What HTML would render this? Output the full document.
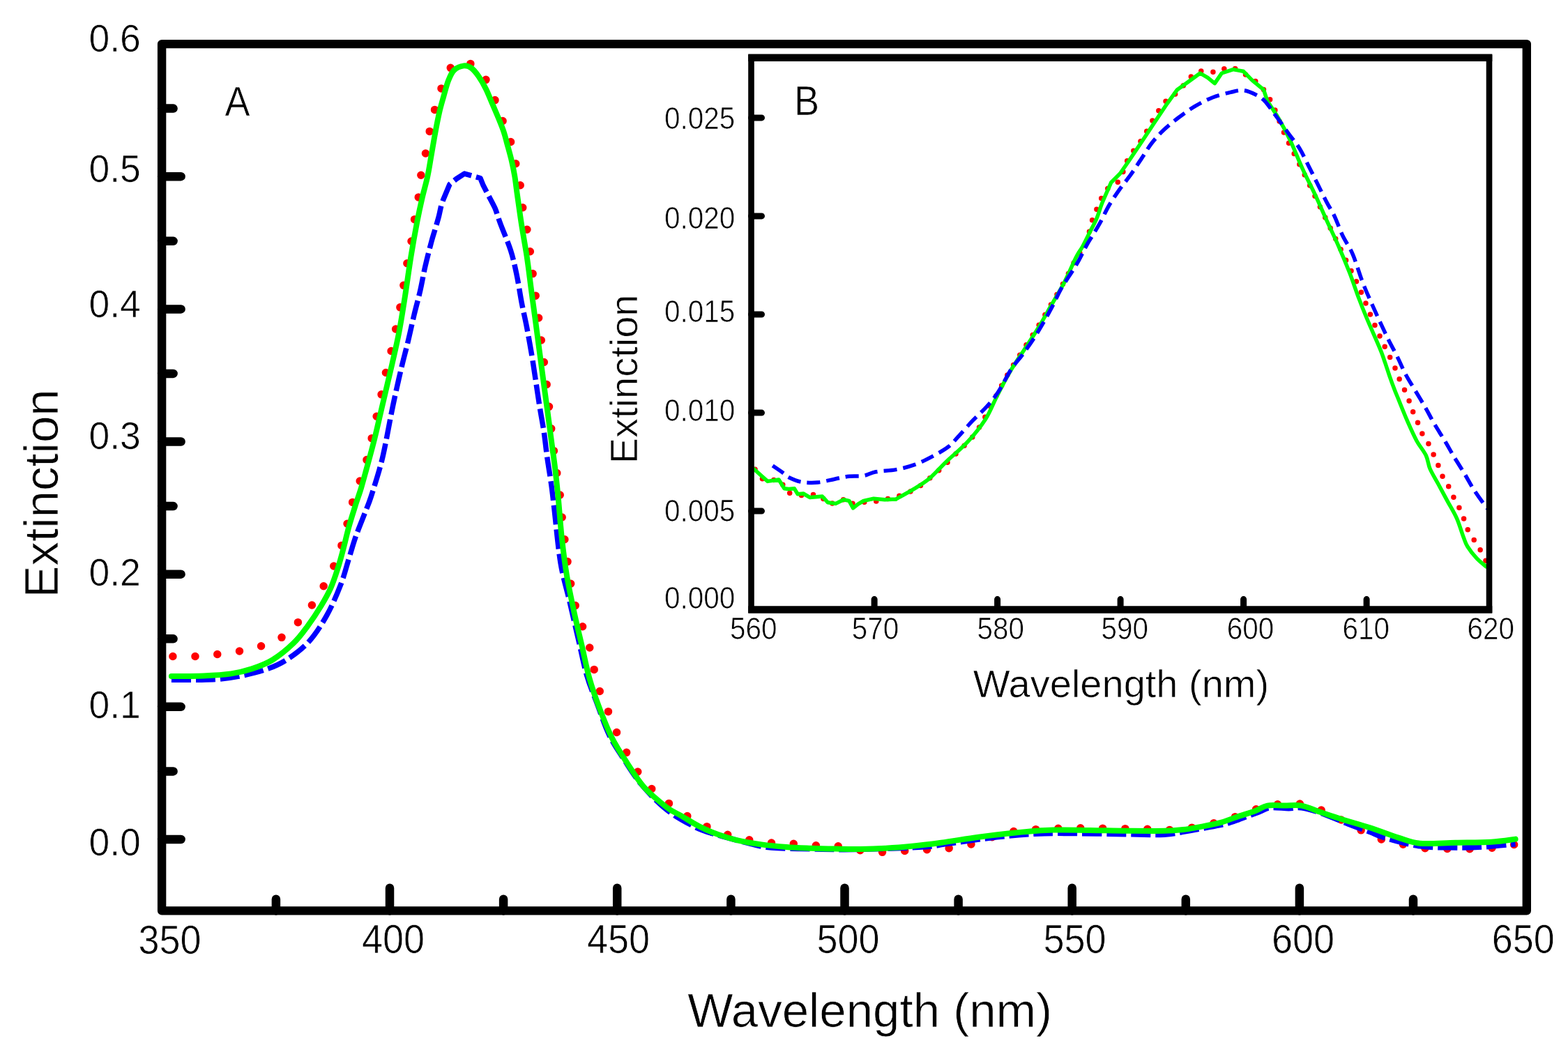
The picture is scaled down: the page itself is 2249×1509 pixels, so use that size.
<!DOCTYPE html>
<html><head><meta charset="utf-8"><title>Extinction spectra</title>
<style>html,body{margin:0;padding:0;background:#fff;} body{width:2249px;height:1509px;overflow:hidden;} svg{display:block;filter:blur(0.6px);}</style>
</head><body>
<svg width="2249" height="1509" viewBox="0 0 2249 1509"><rect width="2249" height="1509" fill="#fff"/><g fill="none" stroke-linejoin="round"><path d="M247.9,941.5 C253.4,941.5 270.3,942.0 280.7,941.5 C291.1,941.0 300.7,939.8 310.5,938.6 C320.3,937.5 330.1,936.1 339.4,934.6 C348.7,933.1 357.6,932.1 366.2,929.6 C374.8,927.1 383.2,923.2 391.0,919.7 C398.8,916.2 405.7,914.7 412.9,908.7 C420.1,902.7 427.8,891.9 434.4,883.9 C441.0,875.9 447.0,869.2 452.7,860.6 C458.4,852.0 463.5,842.1 468.6,832.2 C473.7,822.3 479.5,811.2 483.5,801.4 C487.5,791.6 489.6,783.5 492.4,773.6 C495.2,763.7 497.7,752.3 500.4,741.7 C503.1,731.1 505.1,721.1 508.6,710.0 C512.2,698.9 518.2,686.2 521.7,675.0 C525.2,663.8 527.2,654.2 529.9,643.0 C532.6,631.8 535.0,619.9 537.7,608.0 C540.4,596.1 543.4,583.2 545.9,571.5 C548.4,559.8 550.3,548.4 552.6,538.0 C554.9,527.6 557.6,518.9 559.9,508.9 C562.2,498.9 564.3,488.0 566.3,478.3 C568.3,468.6 570.3,460.1 572.1,450.6 C573.9,441.1 575.4,432.1 577.1,421.4 C578.8,410.7 580.2,398.5 582.3,386.4 C584.4,374.2 587.6,359.9 589.6,348.5 C591.6,337.1 592.3,328.5 594.0,317.9 C595.7,307.2 598.5,294.7 600.0,284.6 C601.5,274.5 601.2,266.6 602.7,257.4 C604.2,248.2 606.9,239.0 608.8,229.2 C610.7,219.4 612.2,208.6 614.1,198.8 C616.0,189.0 618.2,179.1 620.2,170.6 C622.2,162.1 623.9,155.7 626.3,147.7 C628.7,139.7 631.0,131.5 634.7,122.6 C638.4,113.7 643.7,99.8 648.4,94.4 C653.1,89.0 658.2,90.2 663.0,90.0 C667.8,89.8 671.7,89.0 677.3,92.9 C682.9,96.8 690.9,104.9 696.4,113.4 C701.9,121.9 706.3,134.6 710.1,143.9 C713.9,153.2 715.9,160.6 719.2,169.0 C722.5,177.4 727.1,185.9 729.9,194.2 C732.7,202.5 734.0,210.1 736.0,218.6 C738.0,227.1 740.3,236.8 742.1,245.2 C743.9,253.6 745.4,260.2 746.7,268.9 C748.0,277.6 748.3,288.4 749.7,297.5 C751.1,306.6 753.5,315.2 755.0,323.7 C756.5,332.2 757.3,340.2 758.5,348.5 C759.7,356.8 760.8,363.6 762.0,373.3 C763.2,383.0 764.5,396.9 765.8,406.8 C767.0,416.8 768.2,423.5 769.5,433.0 C770.8,442.5 772.3,453.0 773.6,463.7 C774.9,474.4 776.1,486.8 777.4,497.2 C778.7,507.6 779.8,515.2 781.2,526.4 C782.6,537.6 784.3,552.2 785.6,564.3 C786.9,576.4 787.9,587.6 789.1,599.2 C790.3,610.9 791.5,622.1 792.9,634.2 C794.3,646.4 796.2,661.2 797.8,672.1 C799.3,683.0 800.9,689.2 802.2,699.8 C803.5,710.4 803.6,718.8 805.5,735.8 C807.4,752.8 810.6,781.2 813.5,801.9 C816.4,822.6 819.2,843.6 823.0,860.0 C826.8,876.4 832.3,888.8 836.0,900.0 C839.7,911.2 842.6,917.4 845.2,927.0 C847.8,936.6 849.2,947.4 851.5,957.5 C853.8,967.6 855.9,978.4 859.0,987.9 C862.1,997.4 866.0,1004.6 870.1,1014.7 C874.2,1024.8 878.6,1037.4 883.7,1048.7 C888.8,1060.0 894.4,1071.7 900.5,1082.7 C906.6,1093.7 913.6,1106.0 920.2,1114.9 C926.8,1123.8 932.1,1129.2 939.9,1136.3 C947.6,1143.4 957.6,1151.2 966.7,1157.8 C975.8,1164.4 985.5,1170.6 994.6,1175.8 C1003.7,1181.0 1012.2,1185.0 1021.1,1188.8 C1030.0,1192.6 1038.9,1195.8 1047.8,1198.5 C1056.7,1201.2 1065.0,1203.1 1074.5,1204.8 C1084.0,1206.5 1094.6,1208.0 1104.7,1208.9 C1114.8,1209.8 1123.9,1209.4 1135.0,1210.1 C1146.1,1210.8 1159.1,1212.1 1171.4,1212.8 C1183.7,1213.5 1195.8,1212.9 1208.8,1214.5 C1221.8,1216.1 1236.2,1221.2 1249.7,1222.3 C1263.2,1223.3 1277.2,1221.3 1289.7,1220.8 C1302.2,1220.2 1313.0,1219.6 1324.4,1219.0 C1335.8,1218.4 1345.3,1218.8 1358.0,1217.1 C1370.7,1215.4 1388.7,1212.2 1400.7,1209.1 C1412.7,1206.0 1419.6,1201.3 1430.0,1198.3 C1440.4,1195.3 1447.0,1193.0 1462.9,1191.3 C1478.8,1189.6 1509.5,1188.6 1525.2,1188.0 C1540.9,1187.4 1546.5,1187.8 1557.2,1187.8 C1567.9,1187.8 1578.2,1188.1 1589.2,1188.3 C1600.2,1188.5 1612.3,1188.6 1623.0,1188.8 C1633.7,1189.0 1644.8,1189.3 1653.2,1189.6 C1661.7,1189.9 1666.1,1190.6 1673.7,1190.5 C1681.3,1190.4 1690.1,1189.8 1698.6,1188.8 C1707.0,1187.8 1716.2,1185.9 1724.4,1184.3 C1732.6,1182.7 1739.8,1181.1 1747.5,1179.0 C1755.2,1176.9 1763.1,1174.3 1770.7,1171.9 C1778.3,1169.5 1785.9,1167.4 1793.2,1164.7 C1800.5,1162.0 1806.2,1157.4 1814.7,1155.5 C1823.2,1153.6 1835.5,1153.8 1844.3,1153.5 C1853.1,1153.2 1859.9,1152.3 1867.8,1153.5 C1875.7,1154.7 1883.9,1157.9 1891.4,1160.6 C1898.9,1163.3 1905.7,1166.2 1912.8,1169.8 C1919.9,1173.4 1926.4,1177.9 1934.3,1182.0 C1942.2,1186.1 1951.2,1190.5 1959.9,1194.5 C1968.6,1198.5 1977.1,1202.8 1986.5,1205.7 C1995.9,1208.6 2006.0,1209.9 2016.1,1211.8 C2026.1,1213.7 2036.4,1216.0 2046.8,1217.0 C2057.2,1218.0 2066.1,1217.4 2078.5,1217.5 C2090.9,1217.6 2109.2,1217.9 2121.5,1217.5 C2133.8,1217.1 2143.2,1216.0 2152.1,1214.9 C2161.0,1213.8 2171.2,1211.5 2175.0,1210.8" stroke="#ff0000" stroke-width="11.5" stroke-linecap="round" stroke-dasharray="0 32"/><path d="M245.9,975.3 C251.9,975.3 270.8,975.4 281.7,975.3 C292.6,975.1 301.6,975.2 311.5,974.4 C321.4,973.6 329.7,972.7 341.3,970.4 C352.9,968.1 369.5,964.4 381.1,960.4 C392.7,956.4 400.6,953.1 410.9,946.5 C421.2,939.9 433.1,931.3 442.7,920.7 C452.3,910.1 461.0,896.5 468.6,882.9 C476.2,869.3 483.2,852.8 488.5,839.2 C493.8,825.6 496.8,813.0 500.4,801.4 C504.0,789.8 506.3,780.9 510.3,769.6 C514.3,758.3 520.6,743.2 524.2,733.8 C527.8,724.4 528.4,724.0 532.0,713.0 C535.6,702.0 542.3,680.7 545.8,667.8 C549.3,654.9 550.7,647.4 553.1,635.7 C555.5,624.0 558.0,609.9 560.4,597.8 C562.8,585.6 565.0,574.9 567.7,562.8 C570.4,550.6 573.5,537.0 576.4,524.9 C579.3,512.8 582.3,502.0 585.2,489.9 C588.1,477.8 591.0,464.1 593.9,452.0 C596.8,439.9 600.0,428.7 602.7,417.0 C605.4,405.3 607.2,393.6 609.9,382.0 C612.6,370.4 616.3,356.0 618.7,347.1 C621.1,338.2 622.4,334.7 624.2,328.5 C626.0,322.3 628.1,315.5 629.5,310.0 C630.9,304.5 631.7,299.5 632.7,295.7 C633.7,291.9 635.0,288.7 635.4,287.3 L644.9,264.5 L654.7,256.5 L666.1,249.1 L688.9,255.5 L693.2,266.1 L707.5,293.6 C708.1,294.9 709.5,297.1 711.2,301.6 C712.9,306.1 714.2,311.3 717.7,320.8 C721.2,330.3 728.4,346.6 732.3,358.7 C736.2,370.8 738.3,381.1 741.0,393.7 C743.7,406.3 745.9,421.9 748.3,434.5 C750.7,447.1 753.2,456.9 755.6,469.5 C758.0,482.1 760.7,497.2 762.9,510.3 C765.1,523.4 766.8,535.6 768.7,548.2 C770.6,560.8 772.5,574.0 774.5,586.1 C776.5,598.2 778.7,609.4 780.4,621.1 C782.1,632.8 783.1,644.0 784.8,656.1 C786.5,668.2 788.9,681.7 790.6,694.0 C792.3,706.3 792.8,711.1 795.0,730.0 C797.2,748.9 800.4,785.5 804.0,807.3 C807.6,829.1 812.3,843.0 816.5,860.9 C820.7,878.8 824.8,896.7 829.0,914.6 C833.2,932.5 837.0,952.7 841.5,968.2 C846.0,983.7 850.4,993.3 855.8,1007.6 C861.2,1021.9 867.1,1040.4 873.7,1054.1 C880.3,1067.8 887.5,1077.9 895.2,1089.8 C903.0,1101.7 910.1,1113.7 920.2,1125.6 C930.3,1137.5 943.6,1151.5 956.0,1161.4 C968.4,1171.3 983.6,1179.3 994.5,1185.0 C1005.4,1190.7 1006.6,1191.0 1021.1,1195.4 C1035.6,1199.8 1067.4,1208.1 1081.6,1211.5 C1095.8,1214.9 1092.9,1215.0 1106.5,1216.0 C1120.1,1217.0 1143.5,1217.4 1163.4,1217.8 C1183.3,1218.2 1199.0,1219.0 1225.7,1218.6 C1252.4,1218.1 1301.6,1216.4 1323.5,1215.1 C1345.4,1213.8 1339.3,1213.0 1357.1,1210.6 C1374.8,1208.2 1409.0,1203.2 1430.0,1200.8 C1451.0,1198.4 1467.1,1197.2 1483.4,1196.3 C1499.7,1195.4 1505.7,1195.3 1527.9,1195.4 C1550.1,1195.5 1593.1,1196.4 1616.8,1196.7 C1640.5,1197.0 1655.3,1198.0 1670.1,1197.2 C1684.9,1196.4 1692.4,1194.0 1705.7,1191.7 C1719.0,1189.4 1739.8,1185.7 1750.0,1183.6 C1760.2,1181.5 1757.3,1182.3 1766.6,1179.2 C1775.8,1176.1 1796.3,1168.3 1805.5,1164.9 C1814.7,1161.5 1814.6,1159.6 1821.8,1158.7 C1829.0,1157.8 1840.9,1159.7 1848.4,1159.7 C1855.9,1159.7 1859.3,1157.7 1866.8,1158.7 C1874.3,1159.7 1882.2,1161.9 1893.4,1165.8 C1904.7,1169.7 1922.4,1177.6 1934.3,1182.2 C1946.2,1186.8 1956.5,1190.3 1965.0,1193.5 C1973.5,1196.7 1973.6,1198.2 1985.5,1201.6 C1997.4,1205.0 2019.6,1211.5 2036.6,1213.9 C2053.6,1216.3 2072.4,1215.7 2087.7,1215.9 C2103.0,1216.1 2114.3,1215.8 2128.6,1214.9 C2142.9,1214.1 2166.1,1211.5 2173.6,1210.8" stroke="#0000ff" stroke-width="7.5" stroke-linecap="butt" stroke-dasharray="28 7"/><path d="M245.9,970.0 C253.5,969.9 277.4,970.0 291.6,969.4 C305.9,968.8 319.8,968.1 331.4,966.4 C343.0,964.7 351.3,962.7 361.2,959.4 C371.1,956.1 381.1,952.6 391.0,946.5 C400.9,940.4 412.6,930.7 420.9,922.7 C429.2,914.8 434.1,907.8 440.7,898.8 C447.3,889.8 455.0,878.3 460.6,869.0 C466.2,859.7 470.5,852.1 474.5,843.1 C478.5,834.1 481.5,824.6 484.5,815.3 C487.5,806.0 489.8,797.4 492.4,787.5 C495.0,777.6 497.5,766.0 500.4,755.7 C503.2,745.4 506.6,735.1 509.5,725.8 C512.4,716.5 515.4,708.7 518.0,700.0 C520.6,691.3 522.2,685.3 525.4,673.6 C528.6,661.9 533.2,645.5 537.1,629.9 C541.0,614.3 544.8,596.8 548.7,580.3 C552.6,563.8 556.5,547.7 560.4,530.7 C564.3,513.7 568.6,495.8 572.0,478.3 C575.4,460.8 577.9,444.3 580.8,425.8 C583.7,407.3 586.6,385.5 589.5,367.5 C592.4,349.5 595.6,331.9 598.3,317.9 C601.0,303.9 603.2,294.1 605.7,283.3 C608.2,272.5 611.1,263.1 613.3,252.9 C615.5,242.8 616.9,232.6 618.7,222.4 C620.5,212.2 622.1,202.1 624.0,191.9 C625.9,181.7 628.1,170.3 630.1,161.4 C632.1,152.5 634.1,146.2 636.2,138.6 C638.4,131.0 640.5,122.0 643.0,115.7 C645.5,109.4 647.7,104.0 651.4,100.5 C655.1,97.0 661.0,94.9 665.1,94.4 C669.2,93.9 672.2,94.9 675.8,97.4 C679.4,99.9 683.0,104.5 686.5,109.6 C690.0,114.7 693.8,121.3 697.1,127.9 C700.4,134.5 703.2,142.1 706.3,149.2 C709.3,156.3 712.6,163.7 715.4,170.6 C718.2,177.5 721.0,184.3 723.0,190.4 C725.0,196.5 725.8,200.5 727.6,207.1 C729.4,213.7 731.9,222.4 733.7,230.0 C735.5,237.6 736.9,244.6 738.3,252.9 C739.7,261.2 740.3,268.2 742.0,280.0 C743.7,291.8 746.0,309.1 748.3,323.7 C750.6,338.3 753.4,352.9 755.6,367.5 C757.8,382.1 759.5,396.6 761.4,411.2 C763.3,425.8 765.3,440.3 767.3,454.9 C769.2,469.5 771.2,484.1 773.1,498.7 C775.0,513.3 777.0,527.8 778.9,542.4 C780.8,557.0 782.8,571.5 784.8,586.1 C786.8,600.7 788.7,615.3 790.6,629.9 C792.5,644.5 794.8,659.9 796.4,673.6 C798.0,687.3 798.9,695.7 800.5,712.0 C802.1,728.3 803.7,752.6 805.8,771.5 C807.9,790.4 809.9,807.3 812.9,825.2 C815.9,843.1 820.0,862.1 823.6,878.8 C827.2,895.5 830.8,909.8 834.4,925.3 C838.0,940.8 840.9,956.9 845.1,971.8 C849.3,986.7 854.0,1000.4 859.4,1014.7 C864.8,1029.0 870.7,1044.5 877.3,1057.6 C883.9,1070.7 891.0,1081.5 898.8,1093.4 C906.5,1105.3 914.3,1118.5 923.8,1129.2 C933.3,1139.9 947.2,1151.0 956.0,1157.8 C964.8,1164.6 968.8,1165.4 976.7,1170.0 C984.6,1174.6 994.5,1181.1 1003.4,1185.6 C1012.3,1190.1 1021.1,1193.8 1030.0,1197.1 C1038.9,1200.3 1046.3,1202.7 1056.7,1205.1 C1067.1,1207.5 1080.4,1209.8 1092.3,1211.4 C1104.2,1213.0 1116.1,1214.0 1127.9,1214.9 C1139.8,1215.8 1151.6,1216.2 1163.4,1216.7 C1175.2,1217.2 1187.1,1217.4 1199.0,1217.6 C1210.9,1217.8 1222.8,1218.1 1234.6,1217.9 C1246.4,1217.8 1258.2,1217.4 1270.1,1216.7 C1281.9,1216.0 1292.4,1215.3 1305.7,1214.0 C1319.0,1212.7 1333.7,1210.9 1350.0,1208.7 C1366.3,1206.5 1385.6,1203.1 1403.4,1200.7 C1421.2,1198.3 1438.9,1196.2 1456.7,1194.5 C1474.5,1192.8 1492.3,1191.2 1510.1,1190.6 C1527.9,1190.0 1545.6,1190.7 1563.4,1190.9 C1581.2,1191.1 1599.0,1191.7 1616.8,1191.8 C1634.6,1191.9 1656.8,1192.1 1670.1,1191.8 C1683.4,1191.5 1687.9,1191.0 1696.8,1190.0 C1705.7,1189.0 1714.6,1187.2 1723.5,1185.6 C1732.4,1184.0 1742.1,1182.3 1750.0,1180.2 C1757.9,1178.1 1762.1,1175.9 1770.7,1173.0 C1779.3,1170.1 1793.6,1165.6 1801.4,1162.7 C1809.2,1159.8 1810.9,1156.8 1817.7,1155.6 C1824.5,1154.4 1834.1,1155.6 1842.3,1155.6 C1850.5,1155.6 1858.3,1154.1 1866.8,1155.6 C1875.3,1157.1 1883.9,1161.6 1893.4,1164.8 C1903.0,1168.0 1912.2,1171.2 1924.1,1175.0 C1936.0,1178.8 1951.4,1182.9 1965.0,1187.3 C1978.6,1191.7 1994.0,1197.8 2005.9,1201.6 C2017.8,1205.3 2023.0,1208.6 2036.6,1209.8 C2050.2,1211.0 2070.6,1209.0 2087.7,1208.7 C2104.8,1208.4 2124.6,1208.6 2138.9,1207.7 C2153.2,1206.8 2167.8,1204.3 2173.6,1203.6" stroke="#00ff00" stroke-width="8" stroke-linecap="round"/></g><rect x="232.1" y="63.1" width="1957.7" height="1243.3" fill="none" stroke="#000" stroke-width="12.4" stroke-linejoin="round"/><path d="M232.1,1204.0 H259.6 M232.1,1013.8 H259.6 M232.1,823.7 H259.6 M232.1,633.5 H259.6 M232.1,443.4 H259.6 M232.1,253.2 H259.6 M232.1,1106.4 H248.6 M232.1,916.3 H248.6 M232.1,726.1 H248.6 M232.1,535.9 H248.6 M232.1,345.8 H248.6 M232.1,155.6 H248.6 M559.0,1306.4 V1273.7 M885.2,1306.4 V1273.7 M1211.5,1306.4 V1273.7 M1537.7,1306.4 V1273.7 M1863.9,1306.4 V1273.7 M395.9,1306.4 V1289.7 M722.1,1306.4 V1289.7 M1048.4,1306.4 V1289.7 M1374.6,1306.4 V1289.7 M1700.8,1306.4 V1289.7 M2027.0,1306.4 V1289.7" stroke="#000" stroke-width="12.5" stroke-linecap="round" fill="none"/><rect x="1077.5" y="82.8" width="1058.5" height="791.8" fill="#fff" stroke="none"/><g fill="none" stroke-linejoin="round"><path d="M1083.0,673.2 C1085.2,675.8 1090.1,685.8 1096.2,688.4 C1102.3,691.0 1114.3,686.3 1119.4,689.0 C1124.5,691.7 1121.4,700.9 1126.6,704.5 C1131.8,708.1 1142.5,709.7 1150.6,710.6 C1158.7,711.5 1169.2,707.9 1175.4,710.0 C1181.6,712.2 1182.2,722.3 1187.5,723.3 C1192.8,724.3 1202.8,716.0 1207.5,716.0 C1212.2,716.1 1211.8,722.8 1215.5,723.5 C1219.2,724.3 1222.2,721.6 1229.9,720.7 C1237.6,719.8 1249.0,720.9 1261.9,718.2 C1274.8,715.5 1294.0,711.0 1307.5,704.3 C1321.0,697.7 1331.9,687.3 1342.7,678.2 C1353.5,669.1 1362.8,659.4 1372.3,649.7 C1381.8,640.0 1391.2,632.5 1400.0,620.0 C1408.8,607.5 1417.3,589.0 1425.0,575.0 C1432.7,561.0 1438.8,548.3 1446.0,536.0 C1453.2,523.7 1460.8,512.3 1468.0,501.0 C1475.2,489.7 1482.3,478.8 1489.0,468.0 C1495.7,457.2 1501.7,446.8 1508.0,436.0 C1514.3,425.2 1520.8,414.3 1527.0,403.0 C1533.2,391.7 1540.0,376.6 1545.0,368.0 C1550.0,359.4 1553.7,359.7 1557.3,351.1 C1560.9,342.5 1563.4,325.8 1566.4,316.4 C1569.4,307.0 1572.2,301.9 1575.5,294.6 C1578.8,287.3 1581.2,278.8 1586.4,272.7 C1591.6,266.6 1601.9,264.2 1606.5,258.1 C1611.1,252.0 1610.5,243.4 1613.8,236.3 C1617.1,229.2 1622.2,221.7 1626.5,215.3 C1630.8,208.9 1635.3,204.2 1639.3,198.0 C1643.2,191.8 1646.5,184.3 1650.2,177.9 C1653.9,171.5 1657.2,165.5 1661.2,159.7 C1665.2,153.9 1668.9,148.2 1673.9,143.3 C1678.9,138.5 1686.2,135.4 1691.2,130.6 C1696.2,125.8 1699.1,118.9 1704.0,114.2 C1708.9,109.5 1713.3,104.1 1720.4,102.3 C1727.5,100.5 1739.7,104.3 1746.8,103.2 C1753.9,102.1 1757.4,95.8 1763.2,95.9 C1769.0,96.1 1775.6,101.0 1781.4,104.1 C1787.2,107.1 1792.9,110.5 1797.8,114.2 C1802.7,117.9 1806.0,120.1 1810.6,126.0 C1815.2,131.9 1819.7,138.3 1825.2,149.7 C1830.7,161.1 1837.3,180.6 1843.4,194.3 C1849.5,208.0 1856.2,220.2 1862.0,232.0 C1867.8,243.8 1872.7,253.7 1878.2,265.0 C1883.7,276.3 1889.4,288.3 1895.0,300.0 C1900.6,311.7 1906.2,323.0 1912.0,335.0 C1917.8,347.0 1923.7,359.0 1930.0,372.0 C1936.3,385.0 1943.4,398.9 1949.7,413.0 C1956.0,427.1 1963.3,446.2 1967.6,456.4 C1971.9,466.6 1972.9,468.6 1975.5,474.3 C1978.1,480.1 1980.6,485.4 1983.2,490.9 C1985.8,496.4 1988.3,501.5 1991.1,507.2 C1993.9,512.9 1997.1,519.0 1999.8,525.1 C2002.5,531.2 2004.4,537.5 2007.1,543.6 C2009.8,549.7 2013.2,556.0 2015.7,561.8 C2018.2,567.5 2020.4,573.1 2022.3,578.1 C2024.2,583.1 2025.3,587.5 2027.1,591.9 C2028.8,596.3 2030.9,599.7 2032.8,604.3 C2034.7,608.9 2036.0,614.6 2038.6,619.7 C2041.2,624.8 2045.3,629.8 2048.2,635.1 C2051.1,640.4 2053.5,646.1 2055.9,651.4 C2058.3,656.7 2060.5,661.7 2062.6,666.8 C2064.7,671.9 2066.0,677.1 2068.4,682.1 C2070.8,687.1 2074.3,691.4 2077.0,696.5 C2079.7,701.6 2082.1,707.8 2084.7,712.9 C2087.3,718.0 2090.0,722.3 2092.4,727.3 C2094.8,732.3 2097.2,737.7 2099.1,742.7 C2101.0,747.7 2101.5,752.0 2103.9,757.1 C2106.3,762.2 2110.5,768.5 2113.5,773.4 C2116.5,778.3 2119.4,782.0 2122.1,786.8 C2124.8,791.6 2128.0,798.7 2129.8,802.2 C2131.6,805.7 2132.5,807.0 2133.0,808.0" stroke="#ff0000" stroke-width="7.5" stroke-linecap="round" stroke-dasharray="0 17"/><path d="M1080.5,672.0 L1093.0,683.2 L1101.0,690.4 L1117.0,688.0 L1125.0,700.8 L1131.4,701.6 L1139.4,700.8 L1144.2,708.8 L1152.2,708.0 L1161.8,713.6 L1179.4,712.0 L1187.5,720.8 L1198.7,722.4 L1209.9,716.8 L1217.9,718.4 L1223.5,728.8 L1230.7,723.2 L1238.7,718.4 L1253.1,715.2 L1269.1,716.8 L1285.1,716.0 M1285.1,716.0 C1289.1,713.7 1301.1,707.3 1309.1,702.4 C1317.1,697.5 1325.1,693.1 1333.1,686.4 C1341.1,679.7 1348.0,671.1 1357.1,662.4 C1366.2,653.6 1378.4,644.1 1387.8,633.9 C1397.2,623.7 1406.4,612.2 1413.4,601.4 C1420.4,590.6 1423.8,580.1 1429.6,568.9 C1435.4,557.7 1441.5,545.3 1448.1,534.1 C1454.7,522.9 1462.0,512.5 1469.0,501.7 C1476.0,490.9 1483.3,480.0 1489.9,469.2 C1496.5,458.4 1502.3,447.5 1508.5,436.7 C1514.7,425.9 1521.2,415.4 1527.0,404.2 C1532.8,393.0 1538.9,378.0 1543.2,369.5 C1547.5,361.0 1549.8,359.1 1553.1,353.0 C1556.4,346.9 1559.8,339.7 1563.1,333.1 C1566.4,326.5 1570.0,320.4 1573.0,313.2 C1576.0,306.0 1577.8,298.6 1581.3,290.0 C1584.8,281.4 1591.6,266.5 1593.7,261.8 M1593.7,261.8 L1606.5,249.0 L1619.2,230.8 L1637.5,203.5 L1655.7,176.1 L1673.9,148.8 L1688.5,128.7 L1704.9,116.9 L1721.3,105.0 L1732.2,111.4 L1742.3,119.6 L1752.3,105.0 L1768.7,99.6 L1783.3,102.3 L1796.0,115.1 L1812.4,128.7 L1817.9,145.1 M1817.9,145.1 C1820.6,149.3 1828.8,161.2 1834.3,170.6 C1839.8,180.0 1845.0,189.5 1850.7,201.6 C1856.4,213.7 1862.7,230.1 1868.6,242.9 C1874.5,255.8 1880.2,266.4 1886.0,278.7 C1891.8,291.0 1897.6,304.6 1903.2,316.9 C1908.8,329.2 1914.3,340.3 1919.7,352.6 C1925.1,364.9 1930.8,378.5 1935.6,390.8 C1940.4,403.1 1944.3,415.4 1948.5,426.6 C1952.7,437.8 1955.9,445.8 1961.0,458.0 C1966.1,470.2 1975.0,489.6 1979.2,499.9 C1983.5,510.2 1984.2,513.2 1986.5,519.8 C1988.8,526.4 1990.8,533.0 1993.1,539.6 C1995.4,546.2 1998.4,554.3 2000.4,559.5 C2002.4,564.7 2002.0,563.4 2005.0,570.7 C2008.0,578.0 2013.9,593.1 2018.4,603.4 C2022.9,613.6 2027.4,623.9 2031.9,632.2 C2036.4,640.5 2042.1,646.6 2045.3,653.3 C2048.5,660.0 2048.2,665.8 2051.1,672.5 C2054.0,679.2 2058.4,686.0 2062.6,693.7 C2066.8,701.4 2071.5,710.3 2076.0,718.6 C2080.5,726.9 2085.7,735.0 2089.5,743.6 C2093.3,752.2 2096.5,763.8 2099.1,770.5 C2101.7,777.2 2101.7,778.9 2104.9,784.0 C2108.1,789.1 2113.8,796.4 2118.3,801.2 C2122.8,806.0 2129.5,810.9 2131.7,812.8" stroke="#00ff00" stroke-width="5.5" stroke-linecap="round"/><path d="M1108.2,668.0 C1110.7,669.7 1119.5,675.6 1123.4,678.4 C1127.3,681.2 1127.1,682.7 1131.4,684.8 C1135.7,686.9 1142.1,690.0 1149.0,691.2 C1155.9,692.4 1165.0,692.7 1173.0,692.0 C1181.0,691.3 1189.6,688.7 1197.1,687.2 C1204.6,685.7 1211.0,684.0 1217.9,683.2 C1224.8,682.4 1232.3,683.5 1238.7,682.4 C1245.1,681.3 1248.6,678.3 1256.3,676.8 C1264.0,675.3 1275.8,675.3 1285.1,673.6 C1294.4,671.9 1303.5,669.6 1312.3,666.4 C1321.1,663.2 1329.9,658.7 1337.9,654.4 C1345.9,650.1 1354.3,645.4 1360.3,640.8 C1366.3,636.2 1368.2,633.1 1373.9,626.9 C1379.7,620.7 1387.8,611.1 1394.8,603.7 C1401.8,596.4 1409.5,589.8 1415.7,582.8 C1421.9,575.8 1426.1,570.9 1431.9,562.0 C1437.7,553.1 1444.7,538.4 1450.5,529.5 C1456.3,520.6 1461.3,516.0 1466.7,508.6 C1472.1,501.2 1477.9,493.1 1482.9,485.4 C1487.9,477.7 1492.2,470.3 1496.9,462.2 C1501.6,454.1 1506.5,444.8 1510.8,436.7 C1515.0,428.6 1517.6,421.9 1522.4,413.5 C1527.2,405.1 1535.7,392.9 1539.9,386.1 C1544.1,379.3 1545.4,377.2 1547.8,372.8 C1550.2,368.4 1552.5,363.5 1554.5,359.6 C1556.5,355.7 1557.7,353.3 1559.8,349.6 C1561.9,345.9 1564.3,342.4 1567.3,337.4 C1570.3,332.4 1574.0,326.6 1577.9,319.5 C1581.8,312.4 1585.9,302.9 1590.5,295.0 C1595.1,287.1 1600.4,279.3 1605.7,271.8 C1611.0,264.3 1617.0,257.4 1622.3,249.9 C1627.6,242.4 1632.5,234.5 1637.5,227.1 C1642.5,219.7 1646.8,212.0 1652.0,205.3 C1657.2,198.6 1662.1,193.1 1668.5,187.0 C1674.9,180.9 1682.7,174.6 1690.3,168.8 C1697.9,163.0 1705.8,157.2 1714.0,152.4 C1722.2,147.6 1731.0,143.0 1739.5,139.7 C1748.0,136.4 1757.7,134.1 1765.0,132.4 C1772.3,130.7 1777.2,129.0 1783.3,129.6 C1789.4,130.2 1796.3,133.4 1801.5,136.0 C1806.7,138.6 1809.4,139.9 1814.2,145.1 C1819.0,150.3 1824.8,159.1 1830.6,167.0 C1836.4,174.9 1843.3,184.8 1848.9,192.5 C1854.5,200.2 1859.3,205.4 1864.0,213.0 C1868.7,220.6 1872.8,230.0 1877.0,238.2 C1881.2,246.4 1884.5,253.3 1888.9,262.0 C1893.3,270.7 1899.0,282.7 1903.2,290.6 C1907.4,298.6 1910.1,301.8 1913.9,309.7 C1917.7,317.6 1921.5,329.1 1925.9,338.3 C1930.3,347.5 1935.4,353.5 1940.2,364.6 C1945.0,375.7 1949.7,392.8 1954.5,405.1 C1959.3,417.4 1964.4,428.6 1968.8,438.5 C1973.2,448.4 1976.9,456.4 1980.7,464.7 C1984.5,472.9 1987.9,480.2 1991.8,488.0 C1995.7,495.8 2000.1,503.4 2004.1,511.5 C2008.1,519.6 2011.7,528.6 2016.0,536.7 C2020.3,544.8 2025.0,552.0 2029.9,560.2 C2034.8,568.4 2040.8,578.3 2045.3,586.1 C2049.8,593.9 2052.3,599.5 2056.8,607.2 C2061.3,614.9 2067.4,624.2 2072.2,632.2 C2077.0,640.2 2080.8,647.3 2085.6,655.3 C2090.4,663.3 2096.2,672.2 2101.0,680.2 C2105.8,688.2 2109.4,695.4 2114.5,703.3 C2119.6,711.1 2127.9,722.5 2131.7,727.3 C2135.5,732.1 2136.5,731.3 2137.5,732.1" stroke="#0000ff" stroke-width="5.5" stroke-linecap="butt" stroke-dasharray="19 9"/></g><rect x="1077.5" y="82.8" width="1058.5" height="791.8" fill="none" stroke="#000" stroke-width="8.6" stroke-linejoin="miter"/><path d="M1073.2,82.8 H2140.3 M1073.2,874.6 H2140.3" stroke="#000" stroke-width="10.5" fill="none"/><path d="M1077.5,733.1 H1092.5 M1077.5,592.1 H1092.5 M1077.5,451.0 H1092.5 M1077.5,309.9 H1092.5 M1077.5,168.9 H1092.5 M1254.1,874.6 V859.6 M1430.6,874.6 V859.6 M1607.1,874.6 V859.6 M1783.6,874.6 V859.6 M1960.1,874.6 V859.6" stroke="#000" stroke-width="9" stroke-linecap="round" fill="none"/><g font-family='"Liberation Sans", Arial, sans-serif' fill="#000" stroke="#fff" stroke-width="0.7"><text x="0" y="0" font-size="56" text-anchor="end" transform="translate(201.8,74.0) scale(0.955,1)">0.6</text><text x="0" y="0" font-size="56" text-anchor="end" transform="translate(201.8,261.2) scale(0.955,1)">0.5</text><text x="0" y="0" font-size="56" text-anchor="end" transform="translate(201.8,455.0) scale(0.955,1)">0.4</text><text x="0" y="0" font-size="56" text-anchor="end" transform="translate(201.8,643.8) scale(0.955,1)">0.3</text><text x="0" y="0" font-size="56" text-anchor="end" transform="translate(201.8,839.5) scale(0.955,1)">0.2</text><text x="0" y="0" font-size="56" text-anchor="end" transform="translate(201.8,1029.9) scale(0.955,1)">0.1</text><text x="0" y="0" font-size="56" text-anchor="end" transform="translate(201.8,1227.0) scale(0.955,1)">0.0</text><text x="0" y="0" font-size="56.5" text-anchor="middle" transform="translate(243.6,1368.0) scale(0.955,1)">350</text><text x="0" y="0" font-size="56.5" text-anchor="middle" transform="translate(563.9,1367.0) scale(0.955,1)">400</text><text x="0" y="0" font-size="56.5" text-anchor="middle" transform="translate(887.0,1367.0) scale(0.955,1)">450</text><text x="0" y="0" font-size="56.5" text-anchor="middle" transform="translate(1216.6,1367.0) scale(0.955,1)">500</text><text x="0" y="0" font-size="56.5" text-anchor="middle" transform="translate(1541.6,1367.0) scale(0.955,1)">550</text><text x="0" y="0" font-size="56.5" text-anchor="middle" transform="translate(1868.9,1367.0) scale(0.955,1)">600</text><text x="0" y="0" font-size="56.5" text-anchor="middle" transform="translate(2184.8,1367.0) scale(0.955,1)">650</text><text x="1247.6" y="1473.4" font-size="69" text-anchor="middle" >Wavelength (nm)</text><text x="0" y="0" font-size="59.5" text-anchor="middle" transform="translate(340.5,166.0) scale(0.91,1)">A</text><text x="0" y="0" font-size="59.5" text-anchor="middle" transform="translate(1157.0,165.4) scale(0.91,1)">B</text><text x="0" y="0" font-size="43.5" text-anchor="end" transform="translate(1054.3,184.7) scale(0.93,1)">0.025</text><text x="0" y="0" font-size="43.5" text-anchor="end" transform="translate(1054.3,328.4) scale(0.93,1)">0.020</text><text x="0" y="0" font-size="43.5" text-anchor="end" transform="translate(1054.3,461.6) scale(0.93,1)">0.015</text><text x="0" y="0" font-size="43.5" text-anchor="end" transform="translate(1054.3,603.6) scale(0.93,1)">0.010</text><text x="0" y="0" font-size="43.5" text-anchor="end" transform="translate(1054.3,748.4) scale(0.93,1)">0.005</text><text x="0" y="0" font-size="43.5" text-anchor="end" transform="translate(1054.3,872.9) scale(0.93,1)">0.000</text><text x="0" y="0" font-size="43.5" text-anchor="middle" transform="translate(1080.7,916.5) scale(0.93,1)">560</text><text x="0" y="0" font-size="43.5" text-anchor="middle" transform="translate(1255.5,916.5) scale(0.93,1)">570</text><text x="0" y="0" font-size="43.5" text-anchor="middle" transform="translate(1435.2,916.5) scale(0.93,1)">580</text><text x="0" y="0" font-size="43.5" text-anchor="middle" transform="translate(1613.2,916.5) scale(0.93,1)">590</text><text x="0" y="0" font-size="43.5" text-anchor="middle" transform="translate(1793.6,916.5) scale(0.93,1)">600</text><text x="0" y="0" font-size="43.5" text-anchor="middle" transform="translate(1959.3,916.5) scale(0.93,1)">610</text><text x="0" y="0" font-size="43.5" text-anchor="middle" transform="translate(2138.2,916.5) scale(0.93,1)">620</text><text x="1608.0" y="999.9" font-size="56" text-anchor="middle" >Wavelength (nm)</text><text x="0" y="0" font-size="69" text-anchor="middle" transform="translate(83.4,707.9) rotate(-90)">Extinction</text><text x="0" y="0" font-size="56" text-anchor="middle" transform="translate(913.8,543.9) rotate(-90)">Extinction</text></g></svg>
</body></html>
